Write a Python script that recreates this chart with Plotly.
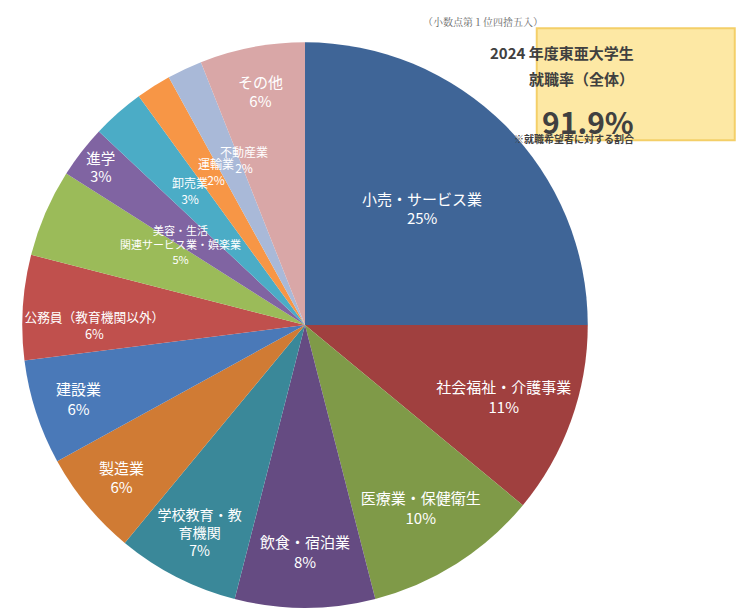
import math
import plotly.graph_objects as go

# 業種別の就職先割合 (%)
labels = ['小売・サービス業', '社会福祉・介護事業', '医療業・保健衛生', '飲食・宿泊業',
          '学校教育・教<br>育機関', '製造業', '建設業', '公務員（教育機関以外）',
          '美容・生活<br>関連サービス業・娯楽業', '進学', '卸売業', '運輸業', '不動産業', 'その他']
values = [25, 11, 10, 8, 7, 6, 6, 6, 5, 3, 3, 2, 2, 6]
colors = ['#3f6597', '#a0403f', '#7f9a48', '#654b82', '#3a8899', '#d07b34', '#4a79b8',
          '#c0504d', '#9bbb59', '#8064a2', '#4bacc6', '#f79646', '#a9b9d8', '#d9a7a7']
sizes = [15, 15, 15, 15, 15, 15, 15, 15, 11, 15, 12, 12, 12, 15]
small = {'美容・生活<br>関連サービス業・娯楽業', '卸売業', '運輸業', '不動産業'}

W, H = 750, 615
dom_x = [0.019, 0.773]
dom_y = [0.024, 0.945]

texts = ['' if l in small else f'{l}<br>{v}%' for l, v in zip(labels, values)]

fig = go.Figure(go.Pie(
    labels=labels, values=values, sort=False, direction='clockwise', rotation=0,
    marker=dict(colors=colors, line=dict(color='white', width=0)),
    text=texts, texttemplate='%{text}', textposition='inside',
    insidetextorientation='horizontal',
    textfont=dict(color='white', size=sizes, family='Noto Sans CJK JP'),
    domain=dict(x=dom_x, y=dom_y), showlegend=False,
    hoverinfo='label+value'))

# labels of thin slices, placed at slice mid-angle (overflowing like the original)
cx = (dom_x[0] + dom_x[1]) / 2 * W
cy = (dom_y[0] + dom_y[1]) / 2 * H
R = (dom_y[1] - dom_y[0]) * H / 2
total = sum(values)
cum = 0
for l, v, s in zip(labels, values, sizes):
    mid = (cum + v / 2) / total * 2 * math.pi
    cum += v
    if l not in small:
        continue
    r = R * 0.72
    fig.add_annotation(xref='paper', yref='paper', showarrow=False,
                       x=(cx + r * math.sin(mid)) / W, y=(cy + r * math.cos(mid)) / H,
                       text=f'{l}<br>{v}%',
                       font=dict(color='white', size=s, family='Noto Sans CJK JP'))

fig.add_shape(type='rect', xref='paper', yref='paper', x0=0.705, x1=0.969, y0=0.785, y1=0.967,
              fillcolor='#fde8a4', line=dict(color='#f4cf68', width=2))
fig.add_annotation(xref='paper', yref='paper', x=0.837, y=1 - 32 / H, showarrow=False,
                   text='<b>2024 年度東亜大学生</b>',
                   font=dict(size=15, color='#404040', family='Noto Sans CJK JP'))
fig.add_annotation(xref='paper', yref='paper', x=0.837, y=1 - 58 / H, showarrow=False,
                   text='<b>就職率（全体）</b>',
                   font=dict(size=15, color='#404040', family='Noto Sans CJK JP'))
fig.add_annotation(xref='paper', yref='paper', x=0.837, y=1 - 89 / H, showarrow=False,
                   text='<b>91.9%</b>', font=dict(size=30, color='#404040', family='Noto Sans CJK JP'))
fig.add_annotation(xref='paper', yref='paper', x=0.837, y=1 - 121 / H, showarrow=False,
                   text='<b>※就職希望者に対する割合</b>',
                   font=dict(size=10, color='#404040', family='Noto Sans CJK JP'))
fig.add_annotation(xref='paper', yref='paper', x=0.633, y=1 - 4 / H, showarrow=False,
                   text='（小数点第１位四捨五入）',
                   font=dict(size=10, color='#666666', family='Noto Serif CJK JP, Noto Sans CJK JP'))

fig.update_layout(width=W, height=H, margin=dict(l=0, r=0, t=0, b=0),
                  paper_bgcolor='white')
fig.write_html('out.html')
